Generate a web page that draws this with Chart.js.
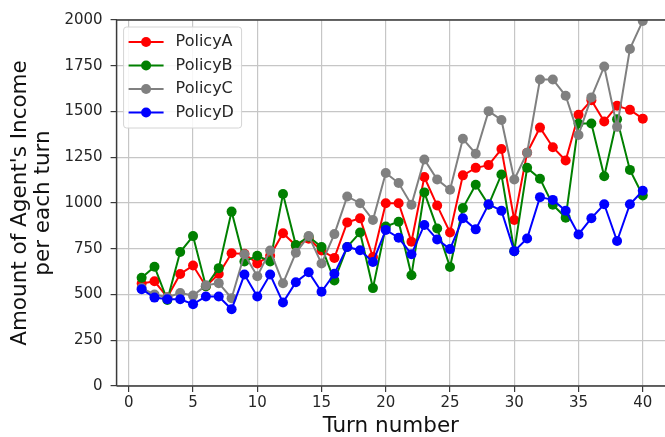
<!DOCTYPE html>
<html>
<head>
<meta charset="utf-8">
<script src="https://cdn.jsdelivr.net/npm/chart.js@4/dist/chart.umd.min.js"></script>
<style>
html,body{margin:0;padding:0;background:#ffffff;}
#wrap{width:665px;height:437px;}
</style>
</head>
<body>
<div id="wrap"><canvas id="c" width="665" height="437"></canvas></div>
<script>
const turns = [1,2,3,4,5,6,7,8,9,10,11,12,13,14,15,16,17,18,19,20,21,22,23,24,25,26,27,28,29,30,31,32,33,34,35,36,37,38,39,40];
const policyA = [560,572,485,612,658,545,612,725,722,670,712,835,768,805,740,700,894,916,705,999,999,788,1142,986,839,1151,1192,1207,1295,907,1275,1412,1305,1232,1482,1562,1445,1531,1509,1461];
const policyB = [592,652,470,732,819,545,644,953,680,712,680,1049,770,816,760,577,760,839,535,871,898,605,1058,861,650,972,1100,990,1156,737,1192,1133,990,920,1434,1434,1146,1458,1181,1041];
const policyC = [535,500,485,508,494,550,562,480,720,600,740,561,728,820,669,830,1036,999,907,1164,1109,990,1238,1128,1072,1351,1269,1502,1454,1128,1275,1675,1675,1586,1372,1577,1746,1416,1842,1995];
const policyD = [529,483,474,474,447,489,489,419,609,489,609,456,567,622,515,613,760,742,678,853,810,720,880,801,748,917,856,993,958,737,806,1032,1017,958,828,917,993,792,993,1067];
const seriesNames = ['PolicyA','PolicyB','PolicyC','PolicyD'];
const seriesColors = ['#ff0000','#008000','#808080','#0000ff'];
const xTicks = [0,5,10,15,20,25,30,35,40];
const yTicks = [0,250,500,750,1000,1250,1500,1750,2000];
const xTitle = 'Turn number';
const yTitle = ["Amount of Agent's Income", 'per each turn'];

const seriesValues = [policyA, policyB, policyC, policyD];
const datasets = seriesValues.map((vals, i) => ({
  label: seriesNames[i],
  data: turns.map((t, j) => ({x: t, y: vals[j]})),
  borderColor: seriesColors[i],
  backgroundColor: seriesColors[i],
  pointBackgroundColor: seriesColors[i],
  pointBorderColor: seriesColors[i],
  pointBorderWidth: 0,
  pointRadius: 5,
  borderWidth: 2,
  tension: 0,
  fill: false,
  order: seriesValues.length - i
}));

const FONT = 'DejaVu Sans';
const GRID = '#c6c6c6';
const SPINE = '#3a3a3a';
const TICKTXT = '#262626';

const framePlugin = {
  id: 'frame',
  afterDatasetsDraw(chart) {
    const ctx = chart.ctx;
    const a = chart.chartArea;
    ctx.save();
    ctx.strokeStyle = SPINE;
    ctx.lineWidth = 1.5;
    ctx.beginPath();
    ctx.moveTo(a.left, a.bottom);
    ctx.lineTo(a.left, a.top);
    ctx.lineTo(a.right + 2, a.top);
    ctx.moveTo(a.left, a.bottom);
    ctx.lineTo(a.right + 2, a.bottom);
    ctx.stroke();
    const bx = a.left + 7, by = a.top + 7, bw = 118, bh = 101;
    ctx.beginPath();
    ctx.roundRect(bx, by, bw, bh, 3);
    ctx.fillStyle = 'rgba(255,255,255,0.85)';
    ctx.fill();
    ctx.strokeStyle = '#d4d4d4';
    ctx.lineWidth = 1;
    ctx.stroke();
    ctx.font = '16px "' + FONT + '"';
    ctx.textBaseline = 'middle';
    ctx.textAlign = 'left';
    seriesNames.forEach((name, i) => {
      const y = by + 15 + i * 23.5;
      ctx.strokeStyle = seriesColors[i];
      ctx.lineWidth = 2;
      ctx.beginPath();
      ctx.moveTo(bx + 5, y);
      ctx.lineTo(bx + 40, y);
      ctx.stroke();
      ctx.fillStyle = seriesColors[i];
      ctx.beginPath();
      ctx.arc(bx + 22.5, y, 5, 0, Math.PI * 2);
      ctx.fill();
      ctx.fillStyle = TICKTXT;
      ctx.fillText(name, bx + 52, y);
    });
    ctx.restore();
  }
};

new Chart(document.getElementById('c'), {
  type: 'line',
  data: { datasets },
  options: {
    responsive: false,
    animation: false,
    devicePixelRatio: 1,
    layout: { autoPadding: false, padding: { left: 0, right: 0, top: 20, bottom: 0 } },
    plugins: { legend: { display: false }, tooltip: { enabled: false } },
    scales: {
      x: {
        type: 'linear',
        min: -0.95,
        max: 41.73,
        afterBuildTicks: (axis) => { axis.ticks = xTicks.map(v => ({value: v})); },
        afterFit: (axis) => { axis.paddingRight = 0; axis.paddingLeft = 0; },
        border: { display: false },
        grid: { color: GRID, lineWidth: 1.2, tickColor: SPINE, tickLength: 6, drawTicks: true },
        ticks: { font: { family: FONT, size: 15 }, color: TICKTXT, padding: 2, maxRotation: 0, autoSkip: false, callback: (v) => String(v) },
        title: { display: true, text: xTitle, font: { family: FONT, size: 21.5, lineHeight: 1.0 }, color: '#111111', padding: { top: 1.5, bottom: 0 } }
      },
      y: {
        min: 0,
        max: 2000,
        afterBuildTicks: (axis) => { axis.ticks = yTicks.map(v => ({value: v})); },
        border: { display: false },
        grid: { color: GRID, lineWidth: 1.2, tickColor: SPINE, tickLength: 6, drawTicks: true },
        ticks: { font: { family: FONT, size: 15 }, color: TICKTXT, padding: 8, callback: (v) => String(v) },
        title: { display: true, text: yTitle, font: { family: FONT, size: 21.5, lineHeight: 1.07 }, color: '#111111', padding: { top: 8.5, bottom: 1.9 } }
      }
    }
  },
  plugins: [framePlugin]
});
</script>
</body>
</html>
